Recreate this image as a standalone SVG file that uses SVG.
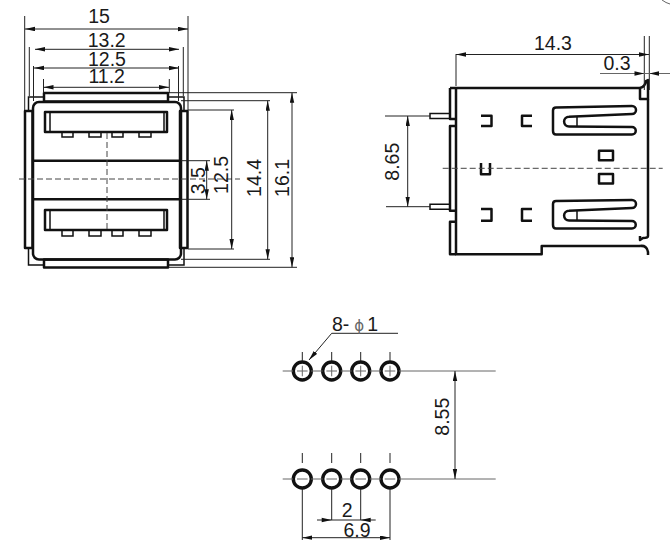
<svg xmlns="http://www.w3.org/2000/svg" width="670" height="544" viewBox="0 0 670 544">
<style>
text{font-family:"Liberation Sans",Arial,sans-serif;font-size:19.5px;fill:#1a1a1a;text-anchor:middle}
.o{fill:none;stroke:#111;stroke-width:2.5;stroke-linejoin:round}
.m{fill:none;stroke:#111;stroke-width:1.5}
.t{fill:none;stroke:#222;stroke-width:1}
.g{fill:none;stroke:#666;stroke-width:1}
.c{fill:none;stroke:#444;stroke-width:1;stroke-dasharray:6 3}
.d{fill:none;stroke:#222;stroke-width:1;marker-start:url(#b);marker-end:url(#b)}
.h{fill:#fff;stroke:#111;stroke-width:3.400}
</style>
<defs>
<marker id="b" markerUnits="userSpaceOnUse" markerWidth="11" markerHeight="5" refX="10" refY="2.2" orient="auto-start-reverse"><path d="M10 2.2L0 0V4.4Z" fill="#111"/></marker>
</defs>
<rect width="670" height="544" fill="#fff"/>

<g id="front-view">
<path class="m" d="M28.500 111V97H44M168 97H184V111M28.500 248V265H44M168 265H184V248"/>
<rect class="o" x="25" y="111" width="7.500" height="137"/>
<rect class="o" x="180" y="111" width="7.500" height="137"/>
<rect class="o" x="33" y="102" width="148" height="157.500" rx="6" fill="#fff"/>
<rect class="o" x="44" y="93" width="124" height="8.500" fill="#fff"/>
<rect class="o" x="44" y="259.500" width="124" height="8" fill="#fff"/>
<path class="o" d="M33 160.700H181M33 199.300H181"/>
<g id="port-top">
<rect class="o" x="45" y="112" width="122" height="20"/>
<path class="m" d="M50 112V132M164 112V132"/>
<path class="m" d="M62 132V137H73V132M89 132V137H101V132M112 132V137H123V132M139 132V137H151V132"/>
</g>
<g id="port-bottom">
<rect class="o" x="45" y="210" width="122" height="20"/>
<path class="m" d="M50 210V230M164 210V230"/>
<path class="m" d="M62 230V236H73V230M89 230V236H101V230M112 230V236H123V230M139 230V236H151V230"/>
</g>
</g>

<g id="side-view">
<path class="o" d="M456 88V254.300H541.700V246H640"/>
<path class="o" d="M450 88H640M450 88V119H456M456 126H450V210.700H456M456 221.700H450V254.300H456"/>
<path class="o" d="M640 88Q645 87 646 81L648 80V99H640V88"/>
<path class="o" d="M648 99V236Q648 238 643 238L640 240V236"/>
<path class="o" d="M640 246Q647 245 648 252V255"/>
<path class="m" d="M430 113.500H450V118.500H430ZM430 204.200H450V209.200H430Z" stroke-width="1.800"/>
<path class="o" d="M481 115.800H491.500V126H481M532 115.800H522V126H532M481 209H491.500V220.700H481M532 209H522V220.700H532M481 163V174.300H490V163"/>
<rect class="o" x="599" y="150.700" width="14" height="9.500"/>
<rect class="o" x="599" y="174" width="14" height="9.500"/>
<g id="spring-top">
<path class="o" d="M556 107.500L632 106A4 4 0 0 1 632 114L569 116.700A4.800 4.800 0 0 0 569 126.500L632 127A3.700 3.700 0 0 1 632 134.500H556Q553 134.500 553 131V110.500Q553 107.500 556 107.500Z"/>
<path class="m" d="M577 116.500V126.500"/>
</g>
<g id="spring-bottom">
<path class="o" d="M556 201L632 200A4 4 0 0 1 632 208L569 210.700A4.800 4.800 0 0 0 569 220.500L632 221A3.700 3.700 0 0 1 632 228.500H556Q553 228.500 553 225V204Q553 201 556 201Z"/>
<path class="m" d="M577 210.500V220.500"/>
</g>
</g>

<g id="hole-pattern">
<circle class="h" cx="302.300" cy="371" r="9"/>
<circle class="h" cx="331.700" cy="371" r="9"/>
<circle class="h" cx="360.700" cy="371" r="9"/>
<circle class="h" cx="390" cy="371" r="9"/>
<circle class="h" cx="302.300" cy="479" r="9"/>
<circle class="h" cx="331.700" cy="479" r="9"/>
<circle class="h" cx="360.700" cy="479" r="9"/>
<circle class="h" cx="390" cy="479" r="9"/>
</g>

<g id="connectors">
<path class="c" d="M19 179H240M107 133V232"/>
<path class="c" d="M442.700 168.300H662.700"/>
<path class="t" d="M24.700 16V110M188 16V110M29.300 47V96M183.300 47V96M33.500 66V101M178.500 66V101M43.500 79V93M169.300 79V93"/>
<path class="t" d="M169 92.700H297M169 267.300H297M181 100.700H270M181 259.300H270M188 110H234M188 249H234M181 160.700H210M181 199.300H210"/>
<path class="d" d="M25 29H188"/>
<path class="d" d="M35 49.300H179"/>
<path class="d" d="M34 68H179"/>
<path class="d" d="M43.500 87.300H169"/>
<path class="d" d="M292 92.700V267.300"/>
<path class="d" d="M267.700 100.700V259.300"/>
<path class="d" d="M231.700 110V249"/>
<path class="d" d="M206.700 160.700V199.300"/>
<path class="t" d="M456 54V86M644.300 36V90M649.300 36V90M385 116H430M386 206.700H430"/>
<path class="d" d="M456 54.500H649"/>
<path class="d" d="M407.700 116V206.700"/>
<path class="g" d="M600 73.500H670"/>
<path d="M644.300 73.500L634.500 71.300V75.700ZM649.300 73.500L659 71.300V75.700Z" fill="#111"/>
<path class="g" d="M662 0Q666 3 670 4"/>
<path class="t" d="M398 333.300H331.700L309 360" style="marker-end:url(#b)"/>
<path class="g" d="M282.700 371H293M311 371H322.700M340.700 371H351.700M369.700 371H381M399 371H495.700M282.700 479H293M311 479H322.700M340.700 479H351.700M369.700 479H381M399 479H495.700"/>
<path class="t" d="M302.300 352V361M331.700 352V361M360.700 352V361M390 352V361M302.300 453V463M331.700 453V463M360.700 453V463M390 453V463"/>
<path class="g" d="M297 371H307.600M302.300 365.700V376.300M326.400 371H337M331.700 365.700V376.300M355.400 371H366M360.700 365.700V376.300M384.700 371H395.300M390 365.700V376.300M297 479H307.600M326.400 479H337M355.400 479H366M384.700 479H395.300"/>
<path class="t" d="M302.300 489V540M331.700 489V520M360.700 489V520M390 489V540"/>
<path class="t" d="M317 520H375.700"/>
<path d="M331.700 520L321.700 517.800V522.200ZM360.700 520L370.700 517.800V522.200Z" fill="#111"/>
<path class="d" d="M302.300 537.700H390"/>
<path class="d" d="M455 371V479"/>
</g>

<g id="labels">
<text x="99" y="23.300">15</text>
<text x="106.700" y="46.700">13.2</text>
<text x="107" y="65.700">12.5</text>
<text x="106.700" y="83.300">11.2</text>
<text transform="translate(204.800 180.700) rotate(-90)">3.5</text>
<text transform="translate(227.500 175) rotate(-90)">12.5</text>
<text transform="translate(261 178) rotate(-90)">14.4</text>
<text transform="translate(288.500 178) rotate(-90)">16.1</text>
<text x="553" y="50">14.3</text>
<text x="617" y="70">0.3</text>
<text transform="translate(398.500 161.700) rotate(-90)">8.65</text>
<text x="355" y="331">8-<tspan fill="#666" font-family="'DejaVu Sans',sans-serif" font-size="15" dx="5">ϕ</tspan><tspan dx="3">1</tspan></text>
<text transform="translate(449 416.700) rotate(-90)">8.55</text>
<text x="347.300" y="516.700">2</text>
<text x="357" y="537">6.9</text>
</g>
</svg>
